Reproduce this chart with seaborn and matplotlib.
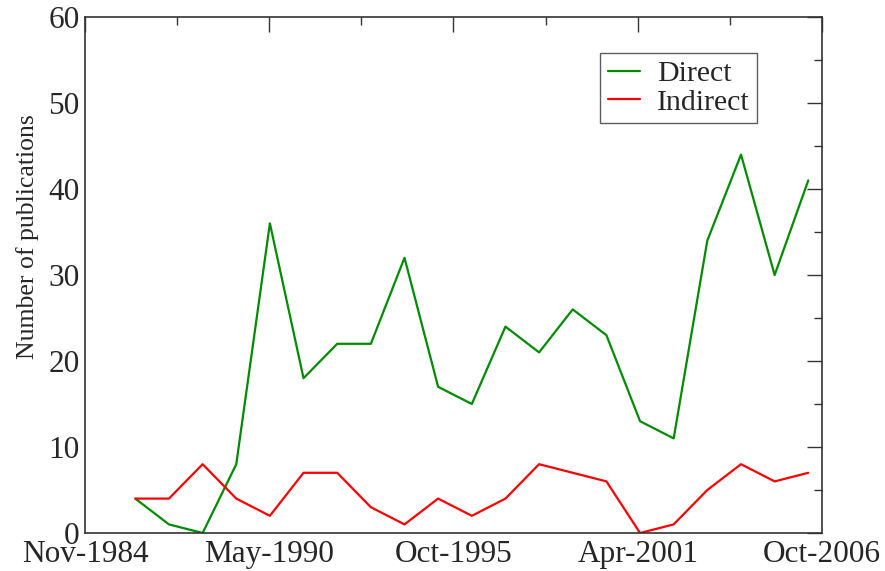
import pandas as pd
import matplotlib
matplotlib.use("Agg")
import matplotlib.pyplot as plt
import matplotlib.dates as mdates
import seaborn as sns

# yearly counts, 1986-2006 (points sit in mid-May)
years = list(range(1986, 2007))
direct = [4, 1, 0, 8, 36, 18, 22, 22, 32, 17, 15, 24, 21, 26, 23, 13, 11, 34, 44, 30, 41]
indirect = [4, 4, 8, 4, 2, 7, 7, 3, 1, 4, 2, 4, 8, 7, 6, 0, 1, 5, 8, 6, 7]

df = pd.DataFrame({
    "date": pd.to_datetime([f"{y}-05-15" for y in years]),
    "Direct": direct,
    "Indirect": indirect,
})
long = df.melt(id_vars="date", var_name="type", value_name="count")

sns.set_style("white")
plt.rcParams["font.family"] = ["Liberation Serif", "DejaVu Serif"]

fig = plt.figure(figsize=(8.85, 5.71), dpi=100)
ax = fig.add_axes([85 / 885, 1 - 533 / 571, (822 - 85) / 885, (533 - 17) / 571])

sns.lineplot(data=long, x="date", y="count", hue="type",
             palette={"Direct": "#008c00", "Indirect": "#ff0000"},
             linewidth=1.6, ax=ax)

# x axis: major ticks every 2000 days from Nov-1984
start = pd.Timestamp("1984-11-15")
majors = [start + pd.Timedelta(days=2000 * i) for i in range(5)]
minors = [start + pd.Timedelta(days=1000 + 2000 * i) for i in range(4)]
ax.set_xlim(majors[0], majors[-1])
ax.set_xticks(majors)
ax.set_xticks(minors, minor=True)
ax.xaxis.set_major_formatter(mdates.DateFormatter("%b-%Y"))

ax.set_ylim(0, 60)
ax.set_yticks(range(0, 61, 10))
ax.set_yticks(range(5, 60, 10), minor=True)

ax.tick_params(which="major", direction="in", length=10.5, width=1.0,
               top=True, right=True, labelsize=22.5, color="#333333")
ax.tick_params(axis="x", which="major", pad=5)
ax.tick_params(axis="y", which="major", pad=4)
ax.tick_params(which="minor", direction="in", length=5.5, width=1.0,
               top=True, right=True, color="#333333")
for s in ax.spines.values():
    s.set_linewidth(1.2)
    s.set_color("#333333")

ax.set_xlabel("")
ax.set_ylabel("Number of publications", fontsize=18.5)
ax.yaxis.set_label_coords(-0.063, 0.574)

leg = ax.legend(loc="upper right", bbox_to_anchor=(757 / 885, 1 - 53 / 571),
                bbox_transform=fig.transFigure, fontsize=21.5, frameon=True,
                fancybox=False, handlelength=1.1, handletextpad=0.55,
                borderpad=0.25, labelspacing=0.05, borderaxespad=0)
leg.get_frame().set_edgecolor("#333333")
leg.get_frame().set_linewidth(1.0)

fig.savefig("out.png", dpi=100)
